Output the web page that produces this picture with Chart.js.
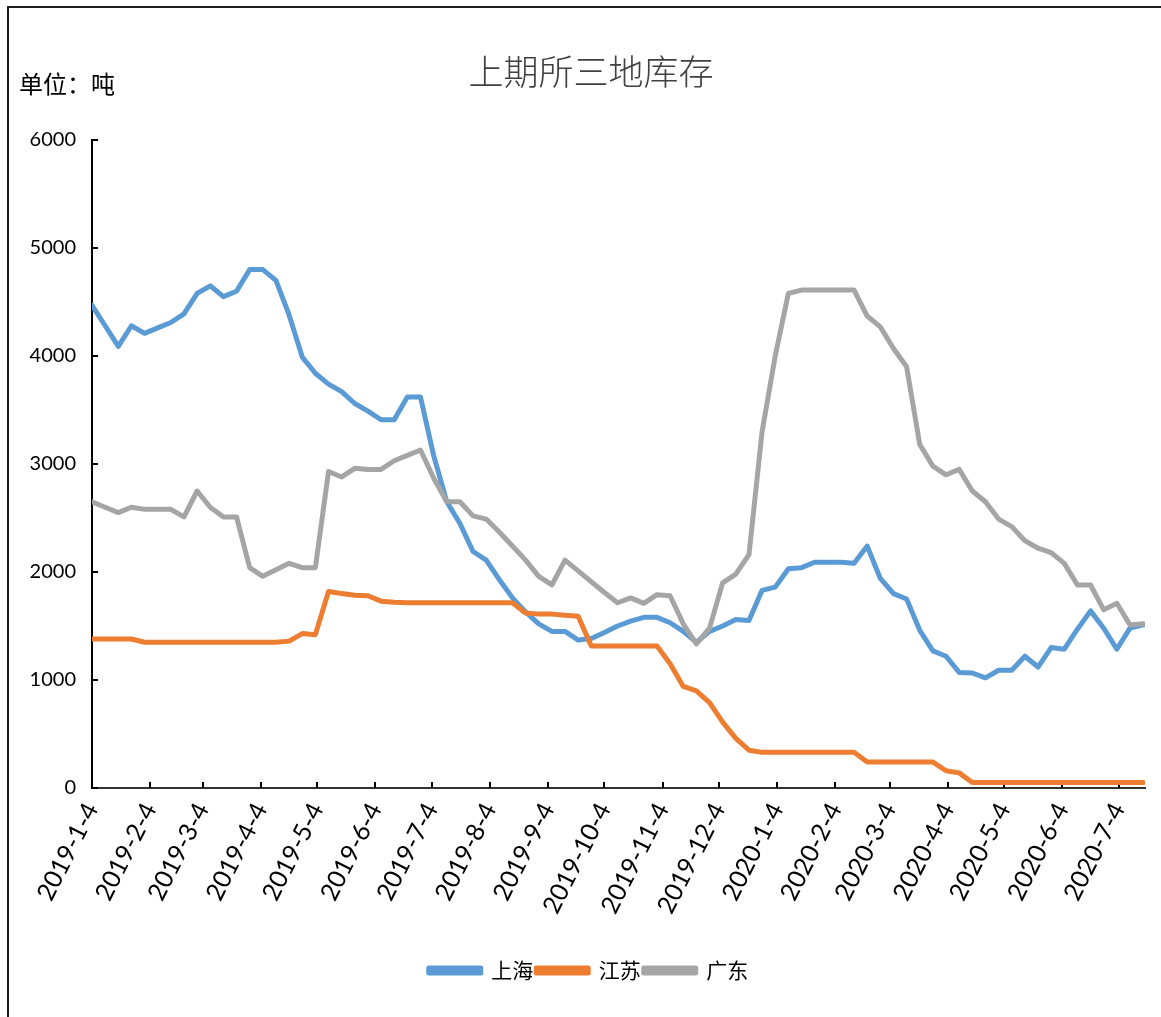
<!DOCTYPE html>
<html>
<head>
<meta charset="utf-8">
<script src="https://cdn.jsdelivr.net/npm/chart.js@4.4.0/dist/chart.umd.min.js"></script>
<style>
html,body{margin:0;padding:0;background:#fff;}
#wrap{position:relative;width:1161px;height:1017px;overflow:hidden;background:#fff;}
#frame{position:absolute;left:7px;top:6px;width:1170px;height:1030px;border-left:2px solid #1e1e1e;border-top:2px solid #1e1e1e;}
#title{position:absolute;left:0;width:1182px;top:45px;text-align:center;font-family:'Noto Sans CJK SC',sans-serif;font-size:35px;color:#404040;font-weight:300;line-height:50px;white-space:nowrap;}
#unit{position:absolute;left:19px;top:66px;font-family:'Noto Sans CJK SC',sans-serif;font-size:24px;color:#000;line-height:34px;white-space:nowrap;}
canvas{position:absolute;left:0;top:0;}
</style>
</head>
<body>
<div id="wrap">
  <div id="frame"></div>
  <canvas id="c" width="1161" height="1017"></canvas>
  <div id="title">上期所三地库存</div>
  <div id="unit">单位：吨</div>
</div>
<script>
// ---- data ----
const dates = [
  '2019-1-4','2019-1-11','2019-1-18','2019-1-25','2019-2-1','2019-2-8','2019-2-15','2019-2-22',
  '2019-3-1','2019-3-8','2019-3-15','2019-3-22','2019-3-29','2019-4-5','2019-4-12','2019-4-19',
  '2019-4-26','2019-5-3','2019-5-10','2019-5-17','2019-5-24','2019-5-31','2019-6-7','2019-6-14',
  '2019-6-21','2019-6-28','2019-7-5','2019-7-12','2019-7-19','2019-7-26','2019-8-2','2019-8-9',
  '2019-8-16','2019-8-23','2019-8-30','2019-9-6','2019-9-13','2019-9-20','2019-9-27','2019-10-4',
  '2019-10-11','2019-10-18','2019-10-25','2019-11-1','2019-11-8','2019-11-15','2019-11-22','2019-11-29',
  '2019-12-6','2019-12-13','2019-12-20','2019-12-27','2020-1-3','2020-1-10','2020-1-17','2020-1-24',
  '2020-1-31','2020-2-7','2020-2-14','2020-2-21','2020-2-28','2020-3-6','2020-3-13','2020-3-20',
  '2020-3-27','2020-4-3','2020-4-10','2020-4-17','2020-4-24','2020-5-1','2020-5-8','2020-5-15',
  '2020-5-22','2020-5-29','2020-6-5','2020-6-12','2020-6-19','2020-6-26','2020-7-3','2020-7-10',
  '2020-7-17'
];
const shanghai = [
  4470,4280,4090,4280,4210,4260,4310,4390,4580,4650,4550,4600,4800,4800,4700,4380,
  3990,3840,3740,3670,3560,3490,3410,3410,3620,3620,3080,2650,2450,2190,2110,1930,
  1760,1630,1520,1450,1450,1370,1385,1440,1500,1545,1580,1580,1530,1450,1350,1450,
  1500,1560,1550,1830,1860,2030,2040,2090,2090,2090,2080,2240,1940,1800,1750,1460,
  1270,1220,1070,1065,1020,1090,1090,1220,1120,1300,1285,1470,1640,1480,1285,1480,
  1510
];
const jiangsu = [
  1380,1380,1380,1380,1350,1350,1350,1350,1350,1350,1350,1350,1350,1350,1350,1360,
  1430,1420,1820,1800,1785,1780,1730,1720,1715,1715,1715,1715,1715,1715,1715,1715,
  1715,1620,1610,1610,1600,1590,1315,1315,1315,1315,1315,1315,1150,940,900,790,
  610,460,350,330,330,330,330,330,330,330,330,240,240,240,240,240,
  240,160,140,50,50,50,50,50,50,50,50,50,50,50,50,50,
  50
];
const guangdong = [
  2650,2600,2550,2600,2580,2580,2580,2510,2750,2600,2510,2510,2040,1960,2020,2080,
  2040,2040,2930,2880,2960,2950,2950,3030,3080,3130,2870,2650,2650,2520,2490,2370,
  2240,2110,1960,1880,2110,2010,1910,1810,1715,1760,1710,1790,1780,1520,1335,1480,
  1900,1980,2160,3300,4000,4580,4610,4610,4610,4610,4610,4370,4270,4070,3900,3180,
  2980,2900,2950,2750,2650,2490,2420,2290,2220,2180,2080,1880,1880,1650,1710,1510,
  1520
];
const monthTickLabels = [
  '2019-1-4','2019-2-4','2019-3-4','2019-4-4','2019-5-4','2019-6-4','2019-7-4','2019-8-4',
  '2019-9-4','2019-10-4','2019-11-4','2019-12-4','2020-1-4','2020-2-4','2020-3-4','2020-4-4',
  '2020-5-4','2020-6-4','2020-7-4'
];
const seriesNames = ['上海','江苏','广东'];
const seriesColors = ['#5B9BD5','#ED7D31','#A5A5A5'];

// ---- helpers ----
function dayNum(s){ const p = s.split('-').map(Number); return Date.UTC(p[0], p[1]-1, p[2]) / 86400000; }
const day0 = dayNum(dates[0]);
const offset = s => dayNum(s) - day0;
const tickOffsets = monthTickLabels.map(offset);
const labelByOffset = {};
monthTickLabels.forEach((l,i)=>{ labelByOffset[tickOffsets[i]] = l; });
const pts = arr => dates.map((d,i)=>({x: offset(d), y: arr[i]}));

const innerTicks = {
  id: 'innerTicks',
  afterLayout(chart){
    if (chart.legend) { chart.legend.left += 16; chart.legend.right += 16; }
  },
  beforeDatasetsDraw(chart){
    const {ctx, chartArea, scales:{x, y}} = chart;
    ctx.save();
    ctx.strokeStyle = '#000';
    ctx.lineWidth = 2;
    x.ticks.forEach(t=>{
      const px = Math.round(x.getPixelForValue(t.value));
      ctx.beginPath(); ctx.moveTo(px, chartArea.bottom); ctx.lineTo(px, chartArea.bottom - 6); ctx.stroke();
    });
    y.ticks.forEach(t=>{
      const py = Math.round(y.getPixelForValue(t.value));
      ctx.beginPath(); ctx.moveTo(chartArea.left, py); ctx.lineTo(chartArea.left + 6, py); ctx.stroke();
    });
    ctx.restore();
  }
};

Chart.defaults.font.family = "Lato, 'Liberation Sans', sans-serif";
Chart.defaults.color = '#000';

const datasets = [shanghai, jiangsu, guangdong].map((arr, i) => ({
  label: seriesNames[i],
  data: pts(arr),
  borderColor: seriesColors[i],
  backgroundColor: seriesColors[i],
  order: 3 - i
}));

new Chart(document.getElementById('c'), {
  type: 'line',
  data: { datasets },
  options: {
    responsive: false,
    animation: false,
    layout: { padding: { top: 140, right: 16, bottom: 26, left: 0 } },
    elements: {
      point: { radius: 0 },
      line: { borderWidth: 5, tension: 0, borderJoinStyle: 'round', borderCapStyle: 'round' }
    },
    plugins: {
      legend: {
        position: 'bottom',
        labels: {
          boxWidth: 52, boxHeight: 5, padding: 3,
          color: '#000',
          font: { family: "'Noto Sans CJK SC', sans-serif", size: 21 },
          sort: (a, b) => a.datasetIndex - b.datasetIndex
        }
      },
      tooltip: { enabled: false },
      title: { display: false }
    },
    scales: {
      x: {
        type: 'linear',
        min: 0,
        max: 561,
        afterBuildTicks: s => { s.ticks = tickOffsets.map(v => ({ value: v })); },
        ticks: {
          autoSkip: false,
          minRotation: 63, maxRotation: 63,
          padding: 10,
          font: { size: 25 },
          callback: v => labelByOffset[v] || ''
        },
        grid: { display: false, drawTicks: false },
        border: { display: true, color: '#333', width: 2 },
        afterFit: s => {
          const lg = s.chart.legend ? s.chart.legend.height : 36;
          s.height = 1017 - 26 - lg - 788;
        }
      },
      y: {
        min: 0, max: 6000,
        ticks: { stepSize: 1000, padding: 16, font: { size: 20 }, callback: v => String(v) },
        grid: { display: false, drawTicks: false },
        border: { display: true, color: '#000', width: 2 },
        afterFit: s => { s.width = 92; }
      }
    }
  },
  plugins: [innerTicks]
});
</script>
</body>
</html>
